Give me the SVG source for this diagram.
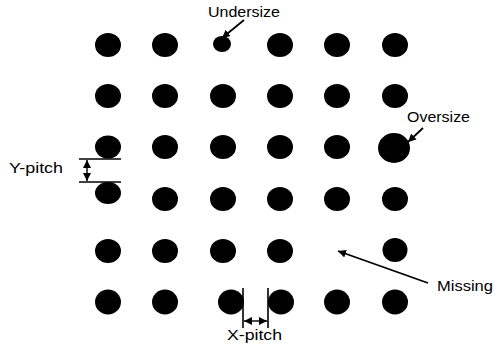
<svg xmlns="http://www.w3.org/2000/svg" width="495" height="346" viewBox="0 0 495 346">
<style>
.dot{fill:#000}
.ln{stroke:#000;stroke-width:1.6;fill:none}
.ar{stroke:#000;stroke-width:1.8;fill:none;marker-end:url(#ah)}
.dar{stroke:#000;stroke-width:1.4;fill:none;marker-start:url(#ahs);marker-end:url(#ah)}
.t{font-family:"Liberation Sans",Arial,sans-serif;font-size:14px;fill:#000}
</style>
<defs>
<marker id="ah" viewBox="0 0 10 10" refX="10" refY="5" markerWidth="8" markerHeight="8" markerUnits="userSpaceOnUse" orient="auto"><path d="M0,0 L10,5 L0,10 z" fill="#000"/></marker>
<marker id="ahs" viewBox="0 0 10 10" refX="0" refY="5" markerWidth="8" markerHeight="8" markerUnits="userSpaceOnUse" orient="auto"><path d="M10,0 L0,5 L10,10 z" fill="#000"/></marker>
</defs>
<rect width="495" height="346" fill="#fff"/>
<g id="dots">
<ellipse class="dot" cx="108" cy="45" rx="13" ry="12"/>
<ellipse class="dot" cx="165" cy="45" rx="13" ry="12"/>
<ellipse id="undersize-dot" class="dot" cx="222" cy="44" rx="9" ry="8"/>
<ellipse class="dot" cx="280" cy="45" rx="13" ry="12"/>
<ellipse class="dot" cx="337" cy="45" rx="13" ry="12"/>
<ellipse class="dot" cx="395" cy="45" rx="13" ry="12"/>

<ellipse class="dot" cx="108" cy="96" rx="13" ry="12"/>
<ellipse class="dot" cx="165" cy="96" rx="13" ry="12"/>
<ellipse class="dot" cx="223" cy="96" rx="13" ry="12"/>
<ellipse class="dot" cx="280" cy="96" rx="13" ry="12"/>
<ellipse class="dot" cx="337" cy="96" rx="13" ry="12"/>
<ellipse class="dot" cx="395" cy="96" rx="13" ry="12"/>

<ellipse class="dot" cx="108" cy="147" rx="13" ry="11.5"/>
<ellipse class="dot" cx="165" cy="147" rx="13" ry="12"/>
<ellipse class="dot" cx="223" cy="147" rx="13" ry="12"/>
<ellipse class="dot" cx="280" cy="147" rx="13" ry="12"/>
<ellipse class="dot" cx="337" cy="147" rx="13" ry="12"/>
<ellipse id="oversize-dot" class="dot" cx="394" cy="148" rx="16" ry="15"/>

<ellipse class="dot" cx="108" cy="193" rx="13" ry="11"/>
<ellipse class="dot" cx="165" cy="199" rx="13" ry="12"/>
<ellipse class="dot" cx="223" cy="199" rx="13" ry="12"/>
<ellipse class="dot" cx="280" cy="199" rx="13" ry="12"/>
<ellipse class="dot" cx="337" cy="199" rx="13" ry="12"/>
<ellipse class="dot" cx="395" cy="199" rx="13" ry="12"/>

<ellipse class="dot" cx="108" cy="251" rx="13" ry="12"/>
<ellipse class="dot" cx="165" cy="251" rx="13" ry="12"/>
<ellipse class="dot" cx="223" cy="251" rx="13" ry="12"/>
<ellipse class="dot" cx="280" cy="251" rx="13" ry="12"/>
<ellipse class="dot" cx="395" cy="250" rx="12.5" ry="12"/>

<ellipse class="dot" cx="108" cy="302" rx="13" ry="12.5"/>
<ellipse class="dot" cx="165" cy="302" rx="13" ry="12.5"/>
<ellipse class="dot" cx="231" cy="302" rx="13" ry="12.5"/>
<ellipse class="dot" cx="281" cy="302" rx="13" ry="12.5"/>
<ellipse class="dot" cx="337" cy="302" rx="13" ry="12.5"/>
<ellipse class="dot" cx="395" cy="302" rx="13" ry="12.5"/>
</g>
<g id="connectors">
<line class="ar" x1="244" y1="20" x2="222" y2="38"/>
<line class="ar" x1="423" y1="128" x2="408" y2="142"/>
<line class="ar" x1="428" y1="283" x2="338" y2="251"/>
<line class="ln" x1="79" y1="159" x2="121" y2="159"/>
<line class="ln" x1="79" y1="182" x2="121" y2="182"/>
<line class="dar" x1="87" y1="160" x2="87" y2="181"/>
<line class="ln" x1="243" y1="288" x2="243" y2="328"/>
<line class="ln" x1="268" y1="288" x2="268" y2="328"/>
<line class="dar" x1="244" y1="321" x2="267" y2="321"/>
</g>
<g id="labels">
<text class="t" x="208" y="17" textLength="72" lengthAdjust="spacingAndGlyphs">Undersize</text>
<text class="t" x="407" y="122" textLength="63" lengthAdjust="spacingAndGlyphs">Oversize</text>
<text class="t" x="9" y="173" textLength="54" lengthAdjust="spacingAndGlyphs">Y-pitch</text>
<text class="t" x="437" y="291" textLength="56" lengthAdjust="spacingAndGlyphs">Missing</text>
<text class="t" x="227" y="340" textLength="55" lengthAdjust="spacingAndGlyphs">X-pitch</text>
</g>
</svg>
